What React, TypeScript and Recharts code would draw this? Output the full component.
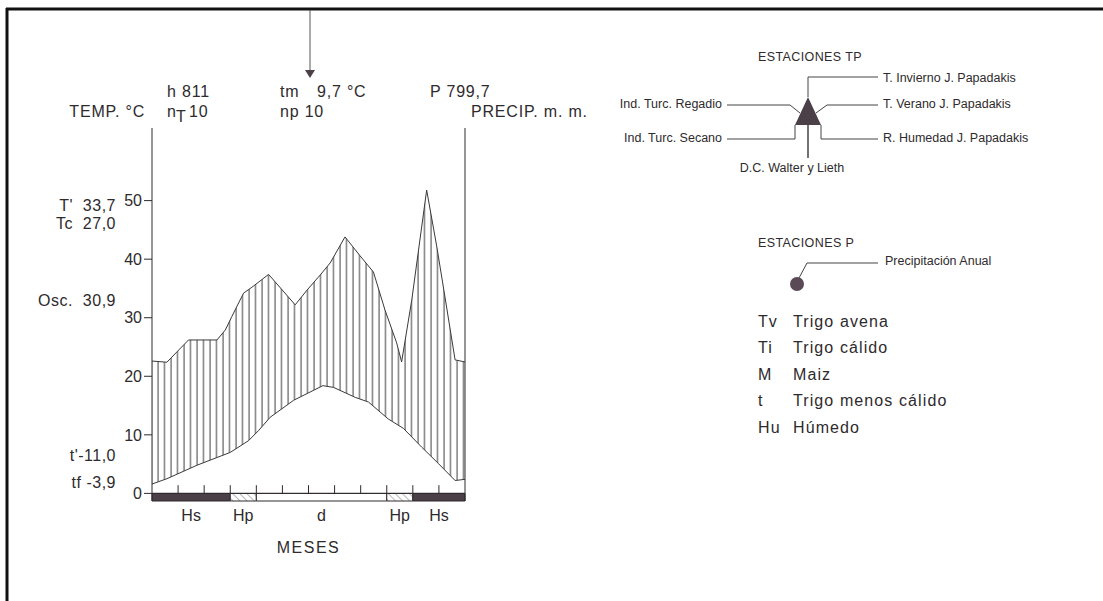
import React from 'react';
import { ComposedChart, Area, XAxis, YAxis, ReferenceArea, ReferenceLine } from 'recharts';

// temperature curve (month position, °C)
const tempMonth = [0, 0.57, 1.72, 3.0, 3.7, 4.08, 4.53, 5.43, 6.55, 6.96, 7.79, 8.3, 9.06, 9.64, 10.34, 10.98, 11.62, 12];
const tempValue = [1.6, 2.5, 4.8, 7.0, 9.0, 10.7, 13.0, 15.9, 18.4, 18.1, 16.4, 15.6, 12.7, 11.1, 7.9, 5.1, 2.2, 2.4];

// precipitation curve (month position, mm)
const precipMonth = [0, 0.57, 1.4, 2.49, 2.81, 3.06, 3.51, 3.83, 4.47, 5.49, 5.95, 6.45, 6.83, 7.4, 7.98, 8.49, 8.93, 9.38, 9.57, 9.96, 10.53, 10.92, 11.17, 11.62, 12];
const precipValue = [45.2, 44.8, 52.4, 52.4, 55.8, 60.4, 68.4, 70.4, 74.8, 64.4, 69.5, 74.6, 78.7, 87.6, 81.1, 75.6, 62.7, 51.4, 44.9, 66.1, 136, 84.2, 70.5, 45.6, 44.9];

// frost periods along the bottom bar
const seasonFrom = [0, 3, 4, 9, 10];
const seasonTo = [3, 4, 9, 10, 12];
const seasonLabel = ['Hs', 'Hp', 'd', 'Hp', 'Hs'];

const monthBounds = [1, 2, 3, 4, 5, 6, 7, 8, 9, 10, 11];
const tempTicks = [0, 10, 20, 30, 40, 50];
const precipTicks = [0, 20, 40, 60, 80, 100, 200];

const sideLabels = ["T'  33,7", 'Tc  27,0', 'Osc.  30,9', "t'-11,0", 'tf -3,9'];
const cropCodes = ['Tv', 'Ti', 'M', 't', 'Hu'];
const cropNames = ['Trigo avena', 'Trigo cálido', 'Maiz', 'Trigo menos cálido', 'Húmedo'];

// 1 °C = 2 mm up to 100 mm, above that the scale is compressed 1:10
const toDisplay = (p: number) => (p <= 100 ? p / 2 : 50 + (p - 100) / 20);

const precipData = precipMonth.map((m, i) => ({ m, v: toDisplay(precipValue[i]) }));
const tempData = tempMonth.map((m, i) => ({ m, v: tempValue[i] }));

const W = 1103;
const H = 601;
const INK = '#2e2a2d';
const DARK = '#4b3f48';
const FONT = '"Liberation Sans", Arial, Helvetica, sans-serif';
const Y_DOMAIN: [number, number] = [-1.3, 62.4];

const seasonFill = (label: string) => (label === 'Hs' ? DARK : label === 'Hp' ? 'url(#diag)' : '#ffffff');

export default function App() {
  const tickStyle = { fill: INK, fontSize: 16, fontFamily: FONT };
  return (
    <div style={{ position: 'absolute', left: 0, top: 0, width: W, height: H, background: '#fff', fontFamily: FONT }}>
      <ComposedChart width={W} height={H} margin={{ top: 128, right: 578, bottom: 40, left: 92 }}>
        <defs>
          <pattern id="vhatch" patternUnits="userSpaceOnUse" width="6.5" height="8">
            <line x1="2" y1="0" x2="2" y2="8" stroke="#3d3d3d" strokeWidth="1" />
          </pattern>
          <pattern id="diag" patternUnits="userSpaceOnUse" width="5" height="5" patternTransform="rotate(-45)">
            <rect width="5" height="5" fill="#fff" />
            <line x1="0" y1="0" x2="0" y2="5" stroke="#8a8a8a" strokeWidth="1.2" />
          </pattern>
        </defs>
        <XAxis
          xAxisId="m"
          dataKey="m"
          type="number"
          domain={[0, 12]}
          ticks={[]}
          tick={false}
          tickLine={false}
          axisLine={false}
          height={60}
          label={{ value: 'MESES', position: 'insideBottom', offset: 8, fill: INK, fontSize: 16, fontFamily: FONT, letterSpacing: 1.5 }}
        />
        <YAxis
          yAxisId="T"
          orientation="left"
          width={60}
          type="number"
          domain={Y_DOMAIN}
          ticks={tempTicks}
          interval={0}
          tick={tickStyle}
          tickSize={8}
          tickMargin={2}
          stroke={INK}
        />
        <YAxis
          yAxisId="P"
          orientation="right"
          width={60}
          type="number"
          domain={Y_DOMAIN}
          ticks={precipTicks.map(toDisplay)}
          interval={0}
          tick={tickStyle}
          tickSize={7}
          tickMargin={3}
          stroke={INK}
          tickFormatter={(v: number) => {
            const p = precipTicks.find((t) => Math.abs(toDisplay(t) - v) < 1e-6);
            return p === undefined ? '' : String(p);
          }}
        />
        <Area
          data={precipData}
          dataKey="v"
          xAxisId="m"
          yAxisId="T"
          type="linear"
          baseValue={0}
          stroke="#3a3a3a"
          strokeWidth={1}
          fill="url(#vhatch)"
          fillOpacity={1}
          dot={false}
          activeDot={false}
          isAnimationActive={false}
        />
        <Area
          data={tempData}
          dataKey="v"
          xAxisId="m"
          yAxisId="T"
          type="linear"
          baseValue={0}
          stroke="#3a3a3a"
          strokeWidth={1}
          fill="#ffffff"
          fillOpacity={1}
          dot={false}
          activeDot={false}
          isAnimationActive={false}
        />
        {seasonFrom.map((from, i) => (
          <ReferenceArea
            key={`s-${i}`}
            xAxisId="m"
            yAxisId="T"
            x1={from}
            x2={seasonTo[i]}
            y1={Y_DOMAIN[0]}
            y2={0}
            fill={seasonFill(seasonLabel[i])}
            fillOpacity={1}
            stroke={INK}
            strokeWidth={1}
            label={{ value: seasonLabel[i], position: 'bottom', offset: 9, fill: INK, fontSize: 16, fontFamily: FONT }}
          />
        ))}
        <ReferenceLine xAxisId="m" yAxisId="T" y={0} stroke={INK} strokeWidth={1} />
        {monthBounds.map((m) => (
          <ReferenceLine
            key={`mt-${m}`}
            xAxisId="m"
            yAxisId="T"
            segment={[{ x: m, y: 0 }, { x: m, y: 1.4 }]}
            stroke={INK}
            strokeWidth={1}
          />
        ))}
      </ComposedChart>

      <svg width={W} height={H} style={{ position: 'absolute', left: 0, top: 0, pointerEvents: 'none' }} fontFamily={FONT} fill={INK}>
        {/* frame */}
        <line x1={6} y1={9} x2={W} y2={9} stroke="#111" strokeWidth={3} />
        <line x1={7} y1={8} x2={7} y2={H} stroke="#111" strokeWidth={3} />

        {/* mean temperature marker */}
        <line x1={310} y1={10} x2={310} y2={70} stroke="#555" strokeWidth={1} />
        <polygon points="305,70 315,70 310,78" fill={DARK} />

        {/* header */}
        <g fontSize={16} letterSpacing={0.8} dominantBaseline="central">
          <text x={167} y={91}>h 811</text>
          <text x={280} y={91}>tm</text>
          <text x={317} y={91}>9,7 °C</text>
          <text x={430} y={91}>P 799,7</text>
          <text x={145} y={111} textAnchor="end">TEMP. °C</text>
          <text x={167} y={111}>n</text>
          <text x={176} y={116}>T</text>
          <text x={189} y={111}>10</text>
          <text x={280} y={111}>np 10</text>
          <text x={471} y={111}>PRECIP. m. m.</text>
        </g>

        {/* station values left of the chart */}
        <g fontSize={16} letterSpacing={0.5} dominantBaseline="central" textAnchor="end">
          {sideLabels.map((s, i) => (
            <text key={s} x={116} y={[205, 223, 300, 455, 482][i]} style={{ whiteSpace: 'pre' }}>
              {s}
            </text>
          ))}
        </g>

        {/* ESTACIONES TP legend */}
        <g fontSize={12.5} dominantBaseline="central">
          <text x={810} y={57} textAnchor="middle" letterSpacing={0.4}>ESTACIONES TP</text>
          <polygon points="808,97 795,125 821,125" fill={DARK} />
          <polyline points="808,97 808,77 878,77" fill="none" stroke="#444" strokeWidth={1} />
          <polyline points="727,105 790,105 800,113" fill="none" stroke="#444" strokeWidth={1} />
          <polyline points="816,113 827,105 878,105" fill="none" stroke="#444" strokeWidth={1} />
          <polyline points="727,139 795,139 795,125" fill="none" stroke="#444" strokeWidth={1} />
          <polyline points="878,139 821,139 821,125" fill="none" stroke="#444" strokeWidth={1} />
          <line x1={808} y1={125} x2={808} y2={158} stroke="#444" strokeWidth={1.5} />
          <text x={883} y={78}>T. Invierno J. Papadakis</text>
          <text x={883} y={104}>T. Verano J. Papadakis</text>
          <text x={883} y={138}>R. Humedad J. Papadakis</text>
          <text x={722} y={104} textAnchor="end">Ind. Turc. Regadio</text>
          <text x={722} y={138} textAnchor="end">Ind. Turc. Secano</text>
          <text x={792} y={168} textAnchor="middle">D.C. Walter y Lieth</text>
        </g>

        {/* ESTACIONES P legend */}
        <g fontSize={12.5} dominantBaseline="central">
          <text x={758} y={243} letterSpacing={0.4}>ESTACIONES P</text>
          <text x={885} y={261}>Precipitación Anual</text>
          <polyline points="799,278 807,263 878,263" fill="none" stroke="#444" strokeWidth={1} />
          <circle cx={797} cy={284} r={7} fill="#5a4a55" />
        </g>

        {/* crop codes */}
        <g fontSize={16} letterSpacing={1.1} dominantBaseline="central">
          {cropCodes.map((c, i) => (
            <React.Fragment key={c}>
              <text x={758} y={321 + i * 26.5}>{c}</text>
              <text x={793} y={321 + i * 26.5}>{cropNames[i]}</text>
            </React.Fragment>
          ))}
        </g>
      </svg>
    </div>
  );
}
